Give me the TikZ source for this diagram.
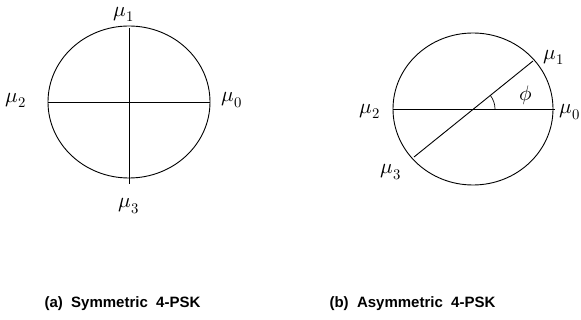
\documentclass[tikz,border=0pt]{standalone}
\usepackage{fontspec}
\setmainfont{Liberation Sans}
\usepackage{unicode-math}
\setmathfont{Latin Modern Math}
\begin{document}
\begin{tikzpicture}[x=1pt,y=-1pt,
  curve/.style={line width=0.9pt},
  lbl/.style={inner sep=0pt,font=\fontsize{21}{24}\selectfont},
  captext/.style={inner sep=0pt,font=\fontsize{15}{18}\selectfont\bfseries}]
\useasboundingbox (0,0) rectangle (581,320);
% (a)
\coordinate (ca) at (129,102);
\draw[curve] (ca) ellipse [x radius=81, y radius=76];
\coordinate (a0) at (210,102);
\coordinate (a2) at (48,102);
\coordinate (a1) at (129,28);
\coordinate (a3) at (129,184);
\draw[curve] (a2) -- (a0);
\draw[curve] (a1) -- (a3);
\node[lbl] (m1a) at (124,14) {$\mu_1$};
\node[lbl] (m2a) at (16,100) {$\mu_2$};
\node[lbl] (m0a) at (232,100) {$\mu_0$};
\node[lbl] (m3a) at (129,206) {$\mu_3$};
% (b)
\coordinate (cb) at (473,109);
\draw[curve] (cb) ellipse [x radius=80, y radius=76];
\coordinate (b2) at (393,109);
\coordinate (b0) at (555,109);
\coordinate (b1) at (533,61);
\coordinate (b3) at (414,157);
\draw[curve] (b2) -- (b0);
\draw[curve] (b3) -- (b1);
\draw[line width=0.7pt] ([shift={(22,0)}]cb) arc[start angle=0,end angle=39,x radius=22,y radius=-22];
\node[lbl] (m1b) at (554,57) {$\mu_1$};
\node[lbl] (phi) at (526,95) {$\phi$};
\node[lbl] (m2b) at (370,111) {$\mu_2$};
\node[lbl] (m0b) at (570,112) {$\mu_0$};
\node[lbl] (m3b) at (391,172) {$\mu_3$};
% captions
\node[captext] (capa) at (122.5,304) {(a)\ \ Symmetric\ \ 4-PSK};
\node[captext] (capb) at (412.5,304) {(b)\ \ Asymmetric\ \ 4-PSK};
\end{tikzpicture}
\end{document}
